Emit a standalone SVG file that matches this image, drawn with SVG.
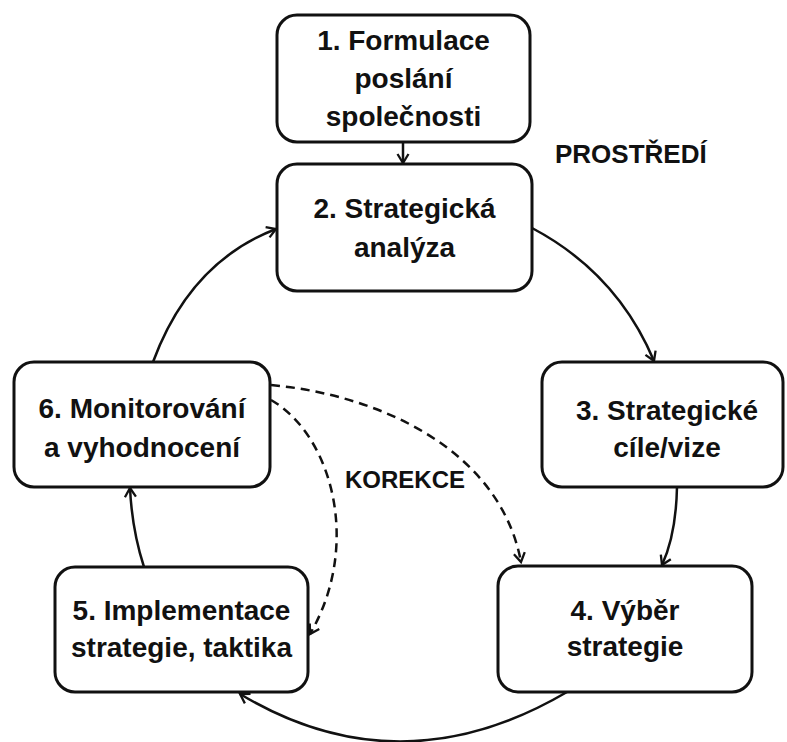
<svg xmlns="http://www.w3.org/2000/svg" width="787" height="742" viewBox="0 0 787 742">
<style>
.box{fill:#fff;stroke:#111;stroke-width:3}
.t{font-family:"Liberation Sans",Arial,sans-serif;font-weight:bold;font-size:28px;fill:#111;text-anchor:middle}
.lbl{font-family:"Liberation Sans",Arial,sans-serif;font-weight:bold;fill:#111}
.c{fill:none;stroke:#111;stroke-width:2.5}
.d{fill:none;stroke:#111;stroke-width:2.5;stroke-dasharray:9 6}
</style>
<defs>
<marker id="ah" markerUnits="userSpaceOnUse" markerWidth="16" markerHeight="16" refX="11" refY="7" orient="auto">
<path d="M2,1.5 L11,7 L2,12.5" fill="none" stroke="#111" stroke-width="2.3"/>
</marker>
</defs>
<rect width="787" height="742" fill="#fff"/>
<g id="connectors">
<path class="c" d="M403,142 L403,163" marker-end="url(#ah)"/>
<path class="c" d="M532,228 Q617,273 654,361" marker-end="url(#ah)"/>
<path class="c" d="M677,487 Q676,535 662,565" marker-end="url(#ah)"/>
<path class="c" d="M567,692 Q400,790 240,694" marker-end="url(#ah)"/>
<path class="c" d="M144,567 Q132,530 130,488" marker-end="url(#ah)"/>
<path class="c" d="M153,362 Q190,262 276,229" marker-end="url(#ah)"/>
<path class="d" d="M271,385 C380,395 500,450 521,562" marker-end="url(#ah)"/>
<path class="d" d="M271,400 C332,435 362,545 310,634" marker-end="url(#ah)"/>
</g>
<g id="n1">
<rect class="box" x="277" y="15" width="253" height="127" rx="20"/>
<text class="t" x="403.5" y="50">1. Formulace</text>
<text class="t" x="403.5" y="88">poslání</text>
<text class="t" x="403.5" y="126">společnosti</text>
</g>
<g id="n2">
<rect class="box" x="277" y="164" width="255" height="127" rx="20"/>
<text class="t" x="404.5" y="218">2. Strategická</text>
<text class="t" x="404.5" y="257">analýza</text>
</g>
<g id="n3">
<rect class="box" x="542" y="362" width="241" height="125" rx="20"/>
<text class="t" x="667" y="420">3. Strategické</text>
<text class="t" x="667" y="457">cíle/vize</text>
</g>
<g id="n4">
<rect class="box" x="498" y="566" width="254" height="126" rx="20"/>
<text class="t" x="625" y="620">4. Výběr</text>
<text class="t" x="625" y="656">strategie</text>
</g>
<g id="n5">
<rect class="box" x="55" y="567" width="253" height="125" rx="20"/>
<text class="t" x="181.5" y="620">5. Implementace</text>
<text class="t" x="181.5" y="657">strategie, taktika</text>
</g>
<g id="n6">
<rect class="box" x="14" y="362" width="256" height="125" rx="20"/>
<text class="t" x="142" y="418">6. Monitorování</text>
<text class="t" x="142" y="457">a vyhodnocení</text>
</g>
<g id="labels">
<text class="lbl" x="555" y="163" font-size="26">PROSTŘEDÍ</text>
<text class="lbl" x="345" y="488" font-size="24">KOREKCE</text>
</g>
</svg>
